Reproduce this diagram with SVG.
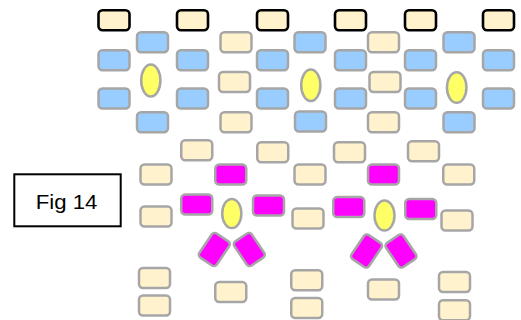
<svg xmlns="http://www.w3.org/2000/svg" xmlns:xlink="http://www.w3.org/1999/xlink" width="521" height="320" viewBox="0 0 521 320">
<style>
.g{stroke:#a6a6a6;stroke-width:2.5}
.k{stroke:#000;stroke-width:2.6;fill:#fff2cc}
.bl{fill:#99ccff}
.cr{fill:#fff2cc}
.mg{fill:#ff00ff}
.ye{fill:#ffff66;stroke:#a6a6a6;stroke-width:2.5}
.fig{font-family:"Liberation Sans",Arial,sans-serif;font-size:20px;fill:#000}
</style>
<defs>
<rect id="b" width="31" height="20" rx="4"/>
<rect id="r" x="-14.5" y="-10.5" width="29" height="21" rx="3.5"/>
</defs>
<rect width="521" height="320" fill="#fff"/>
<g id="connectors"/>
<g id="black-row">
<g id="k1"><use xlink:href="#b" x="98.5" y="10.25" class="k"/></g>
<g id="k2"><use xlink:href="#b" x="177" y="10.25" class="k"/></g>
<g id="k3"><use xlink:href="#b" x="257" y="10.25" class="k"/></g>
<g id="k4"><use xlink:href="#b" x="335" y="10.25" class="k"/></g>
<g id="k5"><use xlink:href="#b" x="405" y="10.25" class="k"/></g>
<g id="k6"><use xlink:href="#b" x="483" y="10.25" class="k"/></g>
</g>
<g id="blue">
<g id="b1"><use xlink:href="#b" x="98.5" y="50.25" class="g bl"/></g>
<g id="b2"><use xlink:href="#b" x="98.5" y="88.5" class="g bl"/></g>
<g id="b3"><use xlink:href="#b" x="137" y="32.25" class="g bl"/></g>
<g id="b4"><use xlink:href="#b" x="137" y="112.25" class="g bl"/></g>
<g id="b5"><use xlink:href="#b" x="177" y="50.25" class="g bl"/></g>
<g id="b6"><use xlink:href="#b" x="177" y="88.5" class="g bl"/></g>
<g id="b7"><use xlink:href="#b" x="257" y="50.25" class="g bl"/></g>
<g id="b8"><use xlink:href="#b" x="257" y="88.5" class="g bl"/></g>
<g id="b9"><use xlink:href="#b" x="294.5" y="32.25" class="g bl"/></g>
<g id="b10"><use xlink:href="#b" x="295" y="111.5" class="g bl"/></g>
<g id="b11"><use xlink:href="#b" x="335" y="50.25" class="g bl"/></g>
<g id="b12"><use xlink:href="#b" x="335" y="88.5" class="g bl"/></g>
<g id="b13"><use xlink:href="#b" x="405" y="50.25" class="g bl"/></g>
<g id="b14"><use xlink:href="#b" x="405" y="88.5" class="g bl"/></g>
<g id="b15"><use xlink:href="#b" x="443.5" y="32.25" class="g bl"/></g>
<g id="b16"><use xlink:href="#b" x="443.5" y="112.25" class="g bl"/></g>
<g id="b17"><use xlink:href="#b" x="483" y="50.25" class="g bl"/></g>
<g id="b18"><use xlink:href="#b" x="483" y="88.5" class="g bl"/></g>
</g>
<g id="cream">
<g id="c1"><use xlink:href="#b" x="220.5" y="32.25" class="g cr"/></g>
<g id="c2"><use xlink:href="#b" x="219" y="72" class="g cr"/></g>
<g id="c3"><use xlink:href="#b" x="220.5" y="112.25" class="g cr"/></g>
<g id="c4"><use xlink:href="#b" x="368" y="32.25" class="g cr"/></g>
<g id="c5"><use xlink:href="#b" x="369.5" y="72" class="g cr"/></g>
<g id="c6"><use xlink:href="#b" x="368" y="112.25" class="g cr"/></g>
<g id="c7"><use xlink:href="#b" x="181.25" y="140.25" class="g cr"/></g>
<g id="c8"><use xlink:href="#b" x="140.5" y="164.5" class="g cr"/></g>
<g id="c9"><use xlink:href="#b" x="140.5" y="206.5" class="g cr"/></g>
<g id="c10"><use xlink:href="#b" x="257.25" y="142.25" class="g cr"/></g>
<g id="c11"><use xlink:href="#b" x="294.5" y="164.5" class="g cr"/></g>
<g id="c12"><use xlink:href="#b" x="292.5" y="208.5" class="g cr"/></g>
<g id="c13"><use xlink:href="#b" x="334" y="142.25" class="g cr"/></g>
<g id="c14"><use xlink:href="#b" x="408" y="141.25" class="g cr"/></g>
<g id="c15"><use xlink:href="#b" x="443.25" y="164.5" class="g cr"/></g>
<g id="c16"><use xlink:href="#b" x="441.5" y="210.5" class="g cr"/></g>
<g id="c17"><use xlink:href="#b" x="139" y="268" class="g cr"/></g>
<g id="c18"><use xlink:href="#b" x="139" y="295.5" class="g cr"/></g>
<g id="c19"><use xlink:href="#b" x="215.25" y="282" class="g cr"/></g>
<g id="c20"><use xlink:href="#b" x="291.25" y="270.25" class="g cr"/></g>
<g id="c21"><use xlink:href="#b" x="291.25" y="298" class="g cr"/></g>
<g id="c22"><use xlink:href="#b" x="368" y="279.5" class="g cr"/></g>
<g id="c23"><use xlink:href="#b" x="439" y="272" class="g cr"/></g>
<g id="c24"><use xlink:href="#b" x="439" y="300.25" class="g cr"/></g>
</g>
<g id="magenta">
<g id="m1"><use xlink:href="#b" x="215.25" y="164.5" class="g mg"/></g>
<g id="m2"><use xlink:href="#b" x="181.25" y="194.5" class="g mg"/></g>
<g id="m3"><use xlink:href="#b" x="253" y="195.5" class="g mg"/></g>
<g id="m4"><use xlink:href="#b" x="368" y="164.5" class="g mg"/></g>
<g id="m5"><use xlink:href="#b" x="333.25" y="197" class="g mg"/></g>
<g id="m6"><use xlink:href="#b" x="405.25" y="199" class="g mg"/></g>
<g id="m7"><use xlink:href="#r" transform="translate(214.3 249.5) rotate(-56)" class="g mg"/></g>
<g id="m8"><use xlink:href="#r" transform="translate(249.3 249.5) rotate(56)" class="g mg"/></g>
<g id="m9"><use xlink:href="#r" transform="translate(366.5 251) rotate(-56)" class="g mg"/></g>
<g id="m10"><use xlink:href="#r" transform="translate(401 251) rotate(56)" class="g mg"/></g>
</g>
<g id="yellow">
<g id="y1"><ellipse cx="150.8" cy="80.5" rx="9.6" ry="16" class="ye"/></g>
<g id="y2"><ellipse cx="310.8" cy="85.3" rx="9.6" ry="15.8" class="ye"/></g>
<g id="y3"><ellipse cx="456.7" cy="87.5" rx="9.75" ry="15.3" class="ye"/></g>
<g id="y4"><ellipse cx="231.8" cy="213.5" rx="9.6" ry="14.6" class="ye"/></g>
<g id="y5"><ellipse cx="384.5" cy="215.5" rx="10" ry="15" class="ye"/></g>
</g>
<g id="fig-label">
<rect x="14.3" y="174.3" width="106.4" height="52" fill="#fff" stroke="#000" stroke-width="2"/>
<text x="35.7" y="209" textLength="61.6" lengthAdjust="spacingAndGlyphs" class="fig">Fig 14</text>
</g>
</svg>
